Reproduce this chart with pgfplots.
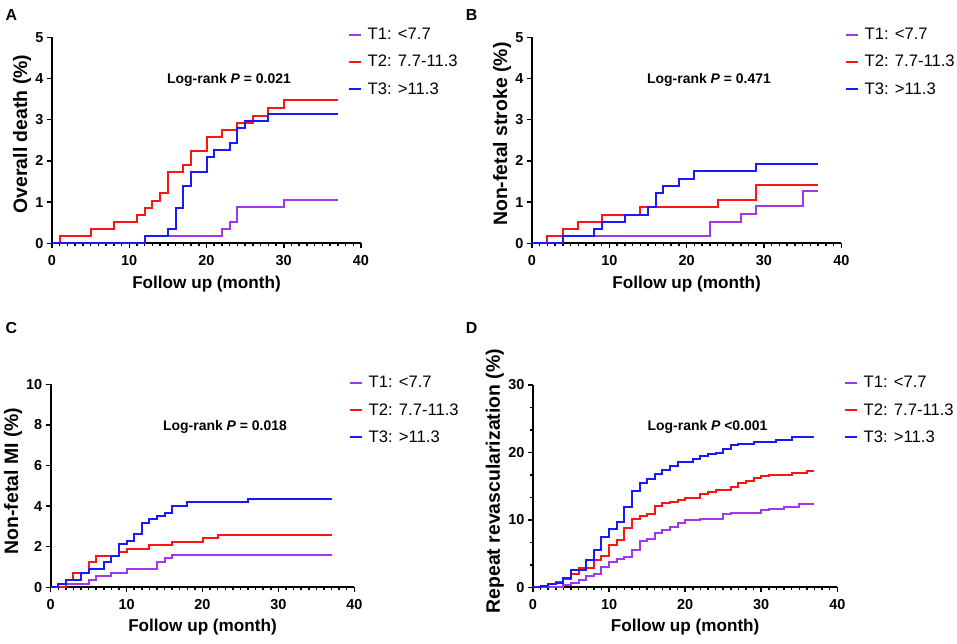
\documentclass[border=0pt]{standalone}
\usepackage{fontspec}
\setmainfont{Liberation Sans}
\usepackage{pgfplots}
\pgfplotsset{compat=1.18}
\definecolor{cT1}{RGB}{163,55,235}
\definecolor{cT2}{RGB}{255,20,20}
\definecolor{cT3}{RGB}{25,25,255}
\pgfplotsset{
  km/.style={
    scale only axis,
    axis x line*=bottom, axis y line*=left,
    axis line style={line width=2.2bp},
    xmin=0, xmax=40, xtick={0,10,20,30,40}, minor x tick num=9,
    tick align=outside,
    major tick length=5bp, minor tick length=3bp,
    every tick/.style={black, line width=1.5bp},
    tick label style={font=\fontsize{14.5}{17}\selectfont\bfseries},
    xticklabel style={yshift=-3.5bp},
    /pgf/number format/assume math mode=true,
    xlabel={Follow up (month)},
    every axis x label/.style={at={(axis description cs:0.5,-0.197)}, anchor=center},
    xlabel style={font=\fontsize{17.2}{20}\selectfont\bfseries},
    ylabel style={font=\fontsize{19.5}{22}\selectfont\bfseries},
    clip=false,
    legend cell align=left,
    legend image code/.code={\draw[##1, line width=2bp] (0bp,0bp) -- (11.5bp,0bp); \path (15.5bp,0bp);},
    legend style={draw=none, fill=none, font=\fontsize{16.7}{19}\selectfont, anchor=west, inner sep=0pt, row sep=10bp},
    every axis plot/.append style={const plot, line width=2bp, mark=none},
  },
}
\begin{document}
\begin{tikzpicture}
\path[use as bounding box] (0bp,0bp) rectangle (957bp,644bp);
% ---------------- A ----------------
\begin{axis}[km, at={(52bp,400.7bp)}, anchor=south west, width=309bp, height=206bp,
  ymin=0, ymax=5, ytick={0,1,2,3,4,5},
  ylabel={Overall death (\%)}, ylabel style={at={(axis description cs:-0.097,0.53)}, anchor=center},
  legend style={at={(axis description cs:0.958,0.88)}}]
\addplot[cT1] coordinates {(0,0) (12,0.17) (22,0.35) (23,0.52) (24,0.88) (30,1.06) (37,1.06)};
\addlegendentry{T1: <7.7}
\addplot[cT2] coordinates {(0,0) (1,0.17) (5,0.34) (8,0.52) (11,0.69) (12,0.86) (13,1.03) (14,1.21) (15,1.72) (17,1.89) (18,2.24) (20,2.58) (22,2.75) (24,2.93) (26,3.10) (28,3.28) (30,3.47) (37,3.47)};
\addlegendentry{T2: 7.7-11.3}
\addplot[cT3] coordinates {(0,0) (12,0.17) (15,0.34) (16,0.86) (17,1.40) (18,1.74) (20,2.09) (21,2.27) (23,2.44) (24,2.79) (25,2.96) (28,3.15) (37,3.15)};
\addlegendentry{T3: >11.3}
\end{axis}
% ---------------- B ----------------
\begin{axis}[km, at={(532bp,400.7bp)}, anchor=south west, width=309.3bp, height=206bp,
  ymin=0, ymax=5, ytick={0,1,2,3,4,5},
  ylabel={Non-fetal stroke (\%)}, ylabel style={at={(axis description cs:-0.097,0.53)}, anchor=center},
  legend style={at={(axis description cs:1.012,0.88)}}]
\addplot[cT1] coordinates {(0,0) (4,0.17) (23,0.52) (27,0.72) (29,0.90) (35,1.28) (37,1.28)};
\addlegendentry{T1: <7.7}
\addplot[cT2] coordinates {(0,0) (2,0.17) (4,0.35) (6,0.52) (9,0.69) (14,0.87) (24,1.04) (29,1.41) (37,1.41)};
\addlegendentry{T2: 7.7-11.3}
\addplot[cT3] coordinates {(0,0) (4,0.17) (8,0.35) (9,0.52) (12,0.69) (15,0.87) (16,1.22) (17,1.40) (19,1.57) (21,1.75) (29,1.93) (37,1.93)};
\addlegendentry{T3: >11.3}
\end{axis}
% ---------------- C ----------------
\begin{axis}[km, at={(50.7bp,56.7bp)}, anchor=south west, width=303.6bp, height=203bp,
  ymin=0, ymax=10, ytick={0,2,4,6,8,10},
  ylabel={Non-fetal MI (\%)}, ylabel style={at={(axis description cs:-0.124,0.524)}, anchor=center},
  legend style={at={(axis description cs:0.9825,0.873)}}]
\addplot[cT1] coordinates {(0,0) (1,0.17) (5,0.36) (6,0.54) (8,0.72) (10,0.90) (14,1.26) (15,1.43) (16,1.60) (37,1.60)};
\addlegendentry{T1: <7.7}
\addplot[cT2] coordinates {(0,0) (2,0.36) (3,0.72) (5,1.23) (6,1.55) (9,1.73) (10,1.90) (13,2.07) (16,2.25) (20,2.43) (22,2.60) (37,2.60)};
\addlegendentry{T2: 7.7-11.3}
\addplot[cT3] coordinates {(0,0) (1,0.17) (2,0.36) (4,0.72) (5,0.89) (7,1.23) (8,1.55) (9,2.11) (10,2.28) (11,2.63) (12,3.16) (13,3.34) (14,3.50) (15,3.67) (16,4.02) (18,4.20) (26,4.37) (37,4.37)};
\addlegendentry{T3: >11.3}
\end{axis}
% ---------------- D ----------------
\begin{axis}[km, at={(533bp,56.7bp)}, anchor=south west, width=304.3bp, height=202.3bp,
  ymin=0, ymax=30, ytick={0,10,20,30}, minor y tick num=2,
  ylabel={Repeat revascularization (\%)}, ylabel style={at={(axis description cs:-0.125,0.525)}, anchor=center},
  legend style={at={(axis description cs:1.022,0.876)}}]
\addplot[cT1] coordinates {(0,0) (4,0.35) (5,0.6) (6,1.1) (7,1.7) (8,2.0) (9,3.0) (10,3.7) (11,4.15) (12,4.55) (13,5.5) (14,6.8) (15,7.2) (16,8.0) (17,8.5) (18,9.0) (19,9.6) (20,10.0) (22,10.1) (23,10.2) (25,10.8) (26,11.05) (30,11.4) (31,11.6) (33,11.95) (35,12.3) (37,12.3)};
\addlegendentry{T1: <7.7}
\addplot[cT2] coordinates {(0,0) (2,0.5) (3,0.84) (4,1.2) (5,2.0) (6,2.8) (8,4.1) (9,4.7) (10,6.2) (11,7.0) (12,8.75) (13,10.2) (14,10.6) (15,10.9) (16,12.1) (17,12.5) (18,12.65) (19,12.95) (20,13.3) (22,13.9) (23,14.2) (24,14.4) (26,14.9) (27,15.4) (28,15.7) (29,16.2) (30,16.5) (31,16.6) (34,16.95) (36,17.3) (37,17.3)};
\addlegendentry{T2: 7.7-11.3}
\addplot[cT3] coordinates {(0,0) (1,0.2) (2,0.5) (3,0.7) (4,1.45) (5,2.5) (7,4.05) (8,5.6) (9,7.4) (10,8.6) (11,9.65) (12,11.95) (13,14.3) (14,15.4) (15,16.1) (16,16.85) (17,17.35) (18,17.95) (19,18.65) (21,19.1) (22,19.5) (23,19.7) (24,19.9) (25,20.5) (26,21.05) (27,21.2) (29,21.5) (32,21.8) (34,22.3) (37,22.3)};
\addlegendentry{T3: >11.3}
\end{axis}
% ---------------- annotations ----------------
\begin{scope}[every node/.style={font=\fontsize{14}{16}\selectfont\bfseries, inner sep=0pt}]
\node at (229bp,564bp) {Log-rank \textit{P} = 0.021};
\node at (709bp,564bp) {Log-rank \textit{P} = 0.471};
\node at (225bp,217bp) {Log-rank \textit{P} = 0.018};
\node at (707.5bp,217bp) {Log-rank \textit{P} {<}0.001};
\end{scope}
\begin{scope}[every node/.style={font=\fontsize{16}{19}\selectfont\bfseries, inner sep=0pt}]
\node at (11.5bp,628.5bp) {A};
\node at (471.5bp,628.5bp) {B};
\node at (11.5bp,316bp) {C};
\node at (471.5bp,316bp) {D};
\end{scope}
\end{tikzpicture}
\end{document}
